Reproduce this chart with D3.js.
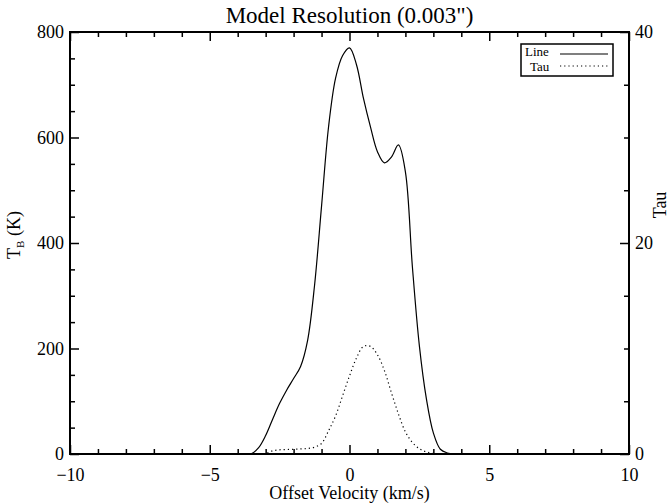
<!DOCTYPE html>
<html>
<head>
<meta charset="utf-8">
<script src="https://cdn.jsdelivr.net/npm/d3@7"></script>
<style>
  body { margin: 0; background: #fff; }
  text { font-family: "Liberation Serif", "DejaVu Serif", serif; fill: #000; }
  .axis path, .axis line { stroke: #000; }
</style>
</head>
<body>
<div id="chart"></div>
<script>
(function () {
  // data
  var velocity = [-10, -4, -3.75, -3.5, -3.25, -3, -2.75, -2.5, -2.25, -2, -1.75, -1.5, -1.25, -1,
                  -0.75, -0.5, -0.25, 0, 0.25, 0.5, 0.75, 1, 1.25, 1.5, 1.75, 2, 2.25, 2.5,
                  2.75, 3, 3.25, 3.5, 3.75, 4, 10];
  var lineTB   = [0, 0, 0, 1, 12, 35, 66, 96, 121, 143, 166, 215, 320, 470,
                  620, 712, 755, 770, 738, 674, 620, 573, 552, 563, 586, 535, 355, 205,
                  105, 40, 9, 2, 0, 0, 0];
  var tau      = [0, 0, 0, 0, 0, 0.05, 0.3, 0.4, 0.42, 0.45, 0.48, 0.52, 0.65, 1.0,
                  2.2, 3.6, 5.5, 7.4, 9.1, 10.2, 10.2, 9.4, 7.9, 5.8, 3.8, 2.1, 1.1, 0.5,
                  0.2, 0.05, 0, 0, 0, 0, 0];

  var xMajor = [-10, -5, 0, 5, 10];
  var yMajor = [0, 200, 400, 600, 800];
  var tauMajor = [0, 20, 40];

  var margin = {top: 32, right: 41, bottom: 50, left: 70},
      width = 670 - margin.left - margin.right,
      height = 504 - margin.top - margin.bottom;

  var x = d3.scaleLinear().domain([-10, 10]).range([0, width]);
  var y = d3.scaleLinear().domain([0, 800]).range([height, 0]);
  var y2 = d3.scaleLinear().domain([0, 40]).range([height, 0]);

  var svg = d3.select("#chart").append("svg")
      .attr("width", 670)
      .attr("height", 504)
    .append("g")
      .attr("transform", "translate(" + margin.left + "," + margin.top + ")");

  var xMinor = d3.range(-10, 11, 1).filter(function(d) { return d % 5 !== 0; });
  var yMinor = d3.range(0, 801, 50).filter(function(d) { return d % 200 !== 0; });
  var tauMinor = d3.range(0, 41, 5).filter(function(d) { return d % 20 !== 0; });

  function styleAxis(g) {
    g.attr("class", "axis")
     .attr("font-family", "Liberation Serif, DejaVu Serif, serif")
     .attr("font-size", 18);
    g.select(".domain").remove();
    g.selectAll("line").attr("stroke-width", 1.5);
  }

  // bottom axis
  svg.append("g")
      .attr("transform", "translate(0," + height + ")")
      .call(d3.axisBottom(x).tickValues(xMajor).tickSize(-9).tickPadding(14))
      .call(styleAxis);
  svg.append("g")
      .attr("transform", "translate(0," + height + ")")
      .call(d3.axisBottom(x).tickValues(xMinor).tickSize(-5).tickFormat(""))
      .call(styleAxis);
  // top axis
  svg.append("g")
      .call(d3.axisTop(x).tickValues(xMajor).tickSize(-9).tickFormat(""))
      .call(styleAxis);
  svg.append("g")
      .call(d3.axisTop(x).tickValues(xMinor).tickSize(-5).tickFormat(""))
      .call(styleAxis);
  // left axis
  svg.append("g")
      .call(d3.axisLeft(y).tickValues(yMajor).tickSize(-9).tickPadding(6))
      .call(styleAxis);
  svg.append("g")
      .call(d3.axisLeft(y).tickValues(yMinor).tickSize(-5).tickFormat(""))
      .call(styleAxis);
  // right axis (tau)
  svg.append("g")
      .attr("transform", "translate(" + width + ",0)")
      .call(d3.axisRight(y2).tickValues(tauMajor).tickSize(-9).tickPadding(6))
      .call(styleAxis);
  svg.append("g")
      .attr("transform", "translate(" + width + ",0)")
      .call(d3.axisRight(y2).tickValues(tauMinor).tickSize(-5).tickFormat(""))
      .call(styleAxis);

  // frame
  svg.append("rect")
      .attr("width", width)
      .attr("height", height)
      .attr("fill", "none")
      .attr("stroke", "#000")
      .attr("stroke-width", 2);

  var lineTBPath = d3.line()
      .x(function(d, i) { return x(velocity[i]); })
      .y(function(d) { return y(d); })
      .curve(d3.curveCatmullRom.alpha(0.5));

  var tauPath = d3.line()
      .x(function(d, i) { return x(velocity[i]); })
      .y(function(d) { return y2(d); })
      .curve(d3.curveCatmullRom.alpha(0.5));

  svg.append("path")
      .datum(lineTB)
      .attr("d", lineTBPath)
      .attr("fill", "none")
      .attr("stroke", "#000")
      .attr("stroke-width", 1.2);

  svg.append("path")
      .datum(tau)
      .attr("d", tauPath)
      .attr("fill", "none")
      .attr("stroke", "#000")
      .attr("stroke-width", 1.2)
      .attr("stroke-dasharray", "1.2,3");

  // title
  svg.append("text")
      .attr("x", width / 2)
      .attr("y", -9)
      .attr("text-anchor", "middle")
      .attr("font-size", 23)
      .text("Model Resolution (0.003\")");

  // x label
  svg.append("text")
      .attr("x", width / 2)
      .attr("y", height + 45)
      .attr("text-anchor", "middle")
      .attr("font-size", 18)
      .text("Offset Velocity (km/s)");

  // left y label with subscript
  var yl = svg.append("text")
      .attr("transform", "translate(" + (-50) + "," + (height / 2 - 8) + ") rotate(-90)")
      .attr("text-anchor", "middle")
      .attr("font-size", 18);
  yl.append("tspan").text("T");
  yl.append("tspan").attr("font-size", 11).attr("dy", 4).text("B");
  yl.append("tspan").attr("dy", -4).text(" (K)");

  // right y label
  svg.append("text")
      .attr("transform", "translate(" + (width + 37) + "," + (height / 2 - 38) + ") rotate(-90)")
      .attr("text-anchor", "middle")
      .attr("font-size", 18)
      .text("Tau");

  // legend
  var lg = svg.append("g")
      .attr("transform", "translate(" + (width - 108) + ",12)");
  lg.append("rect")
      .attr("width", 92)
      .attr("height", 32)
      .attr("fill", "#fff")
      .attr("stroke", "#000")
      .attr("stroke-width", 1.5);
  lg.append("text").attr("x", 4).attr("y", 12).attr("font-size", 13).text("Line");
  lg.append("text").attr("x", 9).attr("y", 27).attr("font-size", 13).text("Tau");
  lg.append("line")
      .attr("x1", 39).attr("x2", 87).attr("y1", 10).attr("y2", 10)
      .attr("stroke", "#000").attr("stroke-width", 1.2);
  lg.append("line")
      .attr("x1", 39).attr("x2", 87).attr("y1", 22).attr("y2", 22)
      .attr("stroke", "#000").attr("stroke-width", 1.2)
      .attr("stroke-dasharray", "1.2,3");
})();
</script>
</body>
</html>
